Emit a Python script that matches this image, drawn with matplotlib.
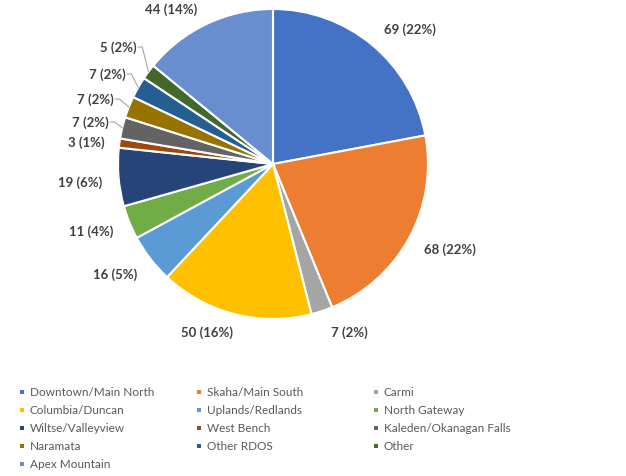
import numpy as np
import matplotlib
matplotlib.use("Agg")
import matplotlib.pyplot as plt

# Neighbourhood counts
areas = ["Downtown/Main North", "Skaha/Main South", "Carmi", "Columbia/Duncan",
         "Uplands/Redlands", "North Gateway", "Wiltse/Valleyview", "West Bench",
         "Kaleden/Okanagan Falls", "Naramata", "Other RDOS", "Other", "Apex Mountain"]
counts = [69, 68, 7, 50, 16, 11, 19, 3, 7, 7, 7, 5, 44]
colors = ["#4472C4", "#ED7D31", "#A5A5A5", "#FFC000", "#5B9BD5", "#70AD47",
          "#264478", "#9E480E", "#636363", "#997300", "#255E91", "#43682B", "#698ED0"]

# label centres in pixels from top-left, and which ones get a leader line
label_xy = [(410, 30), (450, 250), (349, 333), (207, 333), (115, 275), (91, 232),
            (80, 183), (86, 143), (90, 123), (95, 100), (107, 75), (118, 48), (171, 10)]
leader = [False] * 8 + [True, True, True, True, False]

W, H = 626, 477
CX, CY, R = 273, 165, 155

plt.rcParams['font.family'] = ['Lato', 'DejaVu Sans']

fig = plt.figure(figsize=(W / 100, H / 100), dpi=100)
ax = fig.add_axes([0, 0, 1, 1])

wedges, _ = ax.pie(counts, colors=colors, startangle=90, counterclock=False,
                   center=(CX, H - CY), radius=R,
                   wedgeprops=dict(edgecolor='white', linewidth=1.5))
ax.set_xlim(0, W)
ax.set_ylim(0, H)
ax.set_aspect('equal')
ax.axis('off')

total = sum(counts)
texts = []
for n, (x, y) in zip(counts, label_xy):
    t = ax.text(x, H - y, f"{n} ({round(100 * n / total)}%)", ha='center', va='center',
                fontsize=9.5, fontweight='bold', color='#404040')
    texts.append(t)

# leader lines from label to the wedge edge
fig.canvas.draw()
inv = ax.transData.inverted()
for w, t, has_line in zip(wedges, texts, leader):
    if not has_line:
        continue
    mid = np.deg2rad((w.theta1 + w.theta2) / 2)
    ex = CX + R * np.cos(mid)
    ey = H - CY + R * np.sin(mid)
    bb = t.get_window_extent().transformed(inv)
    x0 = bb.x1 + 2
    y0 = (bb.y0 + bb.y1) / 2
    ax.plot([x0, x0 + 4, ex], [y0, y0, ey], color='#A6A6A6', lw=0.8,
            solid_joinstyle='miter')

# legend, laid out row by row in three columns
col_x = [30, 207, 384]
row_y = [393, 411, 429, 447, 465]
for i, (name, c) in enumerate(zip(areas, colors)):
    x = col_x[i % 3]
    y = H - row_y[i // 3]
    ax.scatter([x - 8], [y], marker='s', s=11, color=c, linewidths=0)
    ax.text(x, y, name, ha='left', va='center', fontsize=8.5, color='#595959')

fig.savefig("out.png", dpi=100)
